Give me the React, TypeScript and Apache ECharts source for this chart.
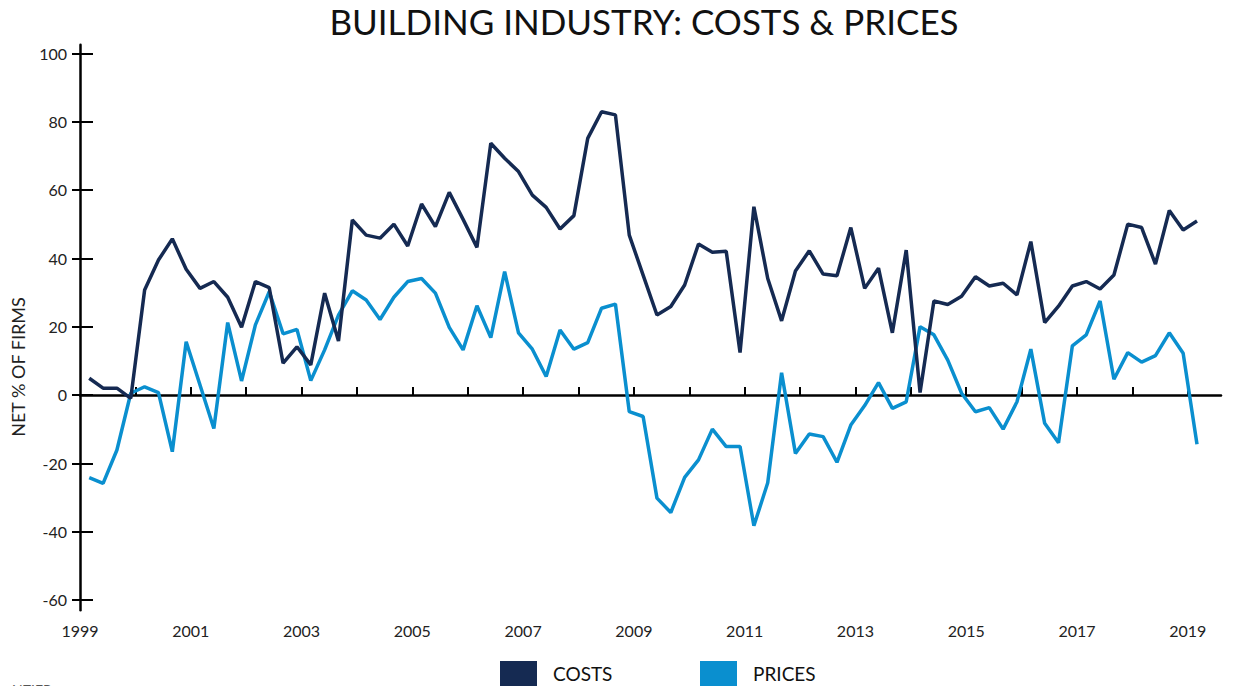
import React, { useEffect, useRef } from "react";
import * as echarts from "echarts";

const quarters = [
  "1999-03","1999-06","1999-09","1999-12","2000-03","2000-06","2000-09","2000-12",
  "2001-03","2001-06","2001-09","2001-12","2002-03","2002-06","2002-09","2002-12",
  "2003-03","2003-06","2003-09","2003-12","2004-03","2004-06","2004-09","2004-12",
  "2005-03","2005-06","2005-09","2005-12","2006-03","2006-06","2006-09","2006-12",
  "2007-03","2007-06","2007-09","2007-12","2008-03","2008-06","2008-09","2008-12",
  "2009-03","2009-06","2009-09","2009-12","2010-03","2010-06","2010-09","2010-12",
  "2011-03","2011-06","2011-09","2011-12","2012-03","2012-06","2012-09","2012-12",
  "2013-03","2013-06","2013-09","2013-12","2014-03","2014-06","2014-09","2014-12",
  "2015-03","2015-06","2015-09","2015-12","2016-03","2016-06","2016-09","2016-12",
  "2017-03","2017-06","2017-09","2017-12","2018-03","2018-06","2018-09","2018-12",
  "2019-03",
];

const costs = [
  4.9, 2, 2, -1, 30.7, 39.5, 45.7, 36.8, 31.2, 33.2, 28.6, 19.8, 33.2, 31.4, 9.3, 14.1,
  8.8, 29.8, 15.8, 51.2, 46.8, 45.9, 50, 43.6, 55.9, 49.3, 59.3, 51.4, 43.2, 73.7, 69.3, 65.4,
  58.5, 54.9, 48.6, 52.5, 75.1, 82.9, 82, 46.8, 35.1, 23.4, 25.9, 32.2, 44.2, 41.8, 42.1, 12.4,
  55.1, 34.1, 21.7, 36.3, 42.2, 35.4, 34.9, 49, 31.2, 37.1, 18.2, 42.4, 0.7, 27.5, 26.5, 28.9,
  34.6, 31.9, 32.7, 29.3, 44.9, 21.2, 26, 31.9, 33.2, 31, 35.1, 50, 49, 38.3, 54, 48.3,
  50.9,
];

const prices = [
  -24.2, -25.9, -16.1, 0.5, 2.4, 0.7, -16.6, 15.6, 2.9, -9.8, 21.2, 4.1, 20.5, 30.2, 17.9, 19.2,
  4.2, 13.2, 23.4, 30.5, 27.8, 22.1, 28.6, 33.2, 34.1, 29.8, 19.8, 13.2, 26.1, 16.8, 36.1, 18.2,
  13.4, 5.4, 19, 13.4, 15.3, 25.4, 26.6, -4.9, -6.3, -30.2, -34.4, -24.1, -19, -10, -15.1, -15.1,
  -38.3, -25.7, 6.5, -17.1, -11.4, -12.2, -19.7, -8.8, -3.1, 3.6, -3.9, -2, 20, 17.6, 10.2, 0.5,
  -4.9, -3.7, -10, -2, 13.4, -8.3, -14, 14.4, 17.6, 27.5, 4.6, 12.4, 9.6, 11.5, 18.2, 12.2,
  -14.4,
];

const yTicks = [-60, -40, -20, 0, 20, 40, 60, 80, 100];
const yearTicks = [2000, 2001, 2002, 2003, 2004, 2005, 2006, 2007, 2008, 2009, 2010, 2011, 2012, 2013, 2014, 2015, 2016, 2017, 2018, 2019];
const yearLabels = [1999, 2001, 2003, 2005, 2007, 2009, 2011, 2013, 2015, 2017, 2019];

const COST_COLOR = "#152a52";
const PRICE_COLOR = "#0a8fcf";
const FONT = "Lato";

function toYear(q: string): number {
  const [y, m] = q.split("-").map(Number);
  return y + (m - 1) / 12;
}

export default function App() {
  const ref = useRef<HTMLDivElement>(null);

  useEffect(() => {
    if (!ref.current) return;
    const chart = echarts.init(ref.current, undefined, { renderer: "svg" });
    const costData = quarters.map((q, i) => [toYear(q), costs[i]]);
    const priceData = quarters.map((q, i) => [toYear(q), prices[i]]);

    const legendBase = {
      orient: "horizontal",
      top: 661,
      padding: 0,
      itemWidth: 37,
      itemHeight: 25,
      icon: "rect",
      textStyle: { fontFamily: FONT, fontSize: 19, color: "#111", padding: [0, 0, 0, 11] },
    };

    chart.setOption({
      animation: false,
      backgroundColor: "#ffffff",
      textStyle: { fontFamily: FONT },
      legend: [
        { ...legendBase, left: 500, data: ["COSTS"] },
        { ...legendBase, left: 700, data: ["PRICES"] },
      ],
      grid: { left: 80, right: 16, top: 44.8, height: 565.4, containLabel: false },
      xAxis: [
        {
          type: "value",
          min: 1999,
          max: 2019.6,
          position: "bottom",
          axisLine: { show: true, onZero: true, lineStyle: { color: "#000", width: 2.5 } },
          axisTick: { show: true, inside: true, length: 8, customValues: yearTicks, lineStyle: { color: "#000", width: 2 } },
          axisLabel: { show: false },
          splitLine: { show: false },
        },
        {
          type: "value",
          min: 1999,
          max: 2019.6,
          position: "bottom",
          axisLine: { show: false, onZero: false },
          axisTick: { show: false },
          axisLabel: {
            show: true,
            customValues: yearLabels,
            margin: 12,
            fontFamily: FONT,
            fontSize: 16,
            color: "#222",
            formatter: (v: number) => String(v),
          },
          splitLine: { show: false },
        },
      ],
      yAxis: [
        {
          type: "value",
          min: -63,
          max: 102.5,
          position: "left",
          axisLine: { show: true, onZero: false, lineStyle: { color: "#000", width: 2.5 } },
          axisTick: { show: true, inside: false, length: 8, customValues: yTicks, lineStyle: { color: "#000", width: 2 } },
          axisLabel: { show: true, customValues: yTicks, margin: 13, fontFamily: FONT, fontSize: 16, color: "#222" },
          splitLine: { show: false },
        },
        {
          type: "value",
          min: -63,
          max: 102.5,
          position: "left",
          axisLine: { show: false, onZero: false },
          axisTick: { show: true, inside: true, length: 13, customValues: yTicks, lineStyle: { color: "#000", width: 2 } },
          axisLabel: { show: false },
          splitLine: { show: false },
        },
      ],
      graphic: [
        {
          type: "text",
          x: 644,
          y: 21,
          style: {
            text: "BUILDING INDUSTRY: COSTS & PRICES",
            fontFamily: FONT,
            fontSize: 35,
            fontWeight: "normal",
            fill: "#111",
            textAlign: "center",
            textVerticalAlign: "middle",
          },
        },
        {
          type: "text",
          x: 18,
          y: 367,
          rotation: Math.PI / 2,
          style: {
            text: "NET % OF FIRMS",
            fontFamily: FONT,
            fontSize: 18,
            fill: "#222",
            textAlign: "center",
            textVerticalAlign: "middle",
          },
        },
        {
          type: "text",
          x: 12,
          y: 682,
          style: { text: "NZIER", fontFamily: FONT, fontSize: 14, fill: "#555", textAlign: "left", textVerticalAlign: "top" },
        },
      ],
      series: [
        {
          name: "COSTS",
          type: "line",
          xAxisIndex: 0,
          yAxisIndex: 0,
          data: costData,
          showSymbol: false,
          symbol: "none",
          itemStyle: { color: COST_COLOR },
          lineStyle: { color: COST_COLOR, width: 3.5 },
          z: 3,
        },
        {
          name: "PRICES",
          type: "line",
          xAxisIndex: 0,
          yAxisIndex: 0,
          data: priceData,
          showSymbol: false,
          symbol: "none",
          itemStyle: { color: PRICE_COLOR },
          lineStyle: { color: PRICE_COLOR, width: 3.5 },
          z: 2,
        },
      ],
    });

    return () => chart.dispose();
  }, []);

  return (
    <div
      ref={ref}
      style={{ position: "fixed", left: 0, top: 0, width: 1237, height: 686, background: "#fff" }}
    />
  );
}
